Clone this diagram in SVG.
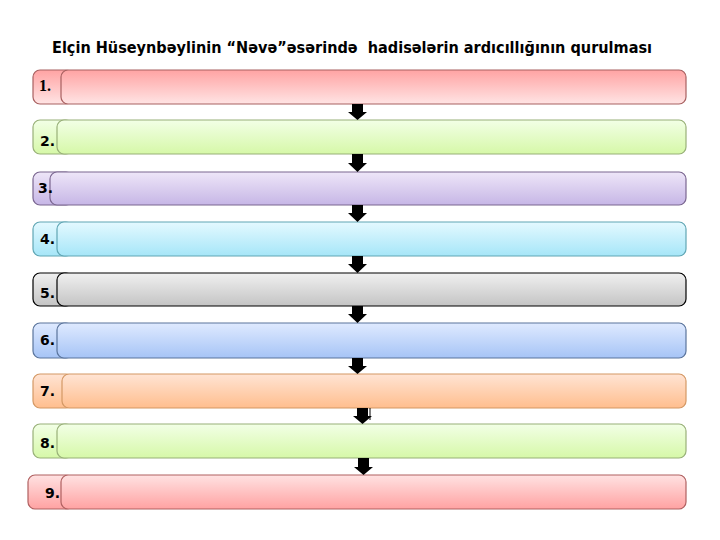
<svg xmlns="http://www.w3.org/2000/svg" width="720" height="540" viewBox="0 0 720 540">
<defs>
<linearGradient id="gRed" x1="0" y1="0" x2="0" y2="1"><stop offset="0" stop-color="#ffa3a3"/><stop offset="1" stop-color="#ffe4e4"/></linearGradient>
<linearGradient id="gRed2" x1="0" y1="0" x2="0" y2="1"><stop offset="0" stop-color="#ffe2e2"/><stop offset="1" stop-color="#ffa2a2"/></linearGradient>
<linearGradient id="gGreen" x1="0" y1="0" x2="0" y2="1"><stop offset="0" stop-color="#f2ffe6"/><stop offset="1" stop-color="#d6f8a8"/></linearGradient>
<linearGradient id="gPurple" x1="0" y1="0" x2="0" y2="1"><stop offset="0" stop-color="#eee6f8"/><stop offset="1" stop-color="#c6b6e6"/></linearGradient>
<linearGradient id="gCyan" x1="0" y1="0" x2="0" y2="1"><stop offset="0" stop-color="#e4f9ff"/><stop offset="1" stop-color="#a6e6f8"/></linearGradient>
<linearGradient id="gGray" x1="0" y1="0" x2="0" y2="1"><stop offset="0" stop-color="#f0f0f0"/><stop offset="1" stop-color="#c4c4c4"/></linearGradient>
<linearGradient id="gBlue" x1="0" y1="0" x2="0" y2="1"><stop offset="0" stop-color="#dfeaff"/><stop offset="1" stop-color="#a6c4f6"/></linearGradient>
<linearGradient id="gOrange" x1="0" y1="0" x2="0" y2="1"><stop offset="0" stop-color="#ffe4d4"/><stop offset="1" stop-color="#ffbe8e"/></linearGradient>
</defs>
<style>
.title{font-family:"DejaVu Sans",sans-serif;font-weight:bold;font-size:15px;fill:#000;white-space:pre}
.num{font-family:"DejaVu Sans",sans-serif;font-weight:bold;font-size:14px;fill:#000}
.numS{font-family:"Liberation Serif",serif;font-weight:bold;font-size:16px;fill:#000}
.arrow{fill:#000}
.red{fill:url(#gRed);stroke:#a86060;stroke-width:1.2}
.red2{fill:url(#gRed2);stroke:#b06060;stroke-width:1.2}
.green{fill:url(#gGreen);stroke:#98b078;stroke-width:1.2}
.purple{fill:url(#gPurple);stroke:#7a6690;stroke-width:1.2}
.cyan{fill:url(#gCyan);stroke:#60a6b4;stroke-width:1.2}
.gray{fill:url(#gGray);stroke:#000;stroke-width:1.2}
.blue{fill:url(#gBlue);stroke:#5a749c;stroke-width:1.2}
.orange{fill:url(#gOrange);stroke:#d49864;stroke-width:1.2}
</style>
<rect width="720" height="540" fill="#fff"/>
<text class="title" x="52" y="53" textLength="600" lengthAdjust="spacingAndGlyphs" xml:space="preserve">Elçin Hüseynbəylinin “Nəvə”əsərində  hadisələrin ardıcıllığının qurulması</text>

<g id="node1">
<rect class="red" x="33" y="70" width="40" height="34" rx="7"/>
<rect class="red" x="61" y="70" width="625" height="34" rx="7"/>
<text class="numS" x="39" y="91">1.</text>
</g>
<g id="node2">
<rect class="green" x="33" y="120" width="40" height="34" rx="7"/>
<rect class="green" x="57" y="120" width="629" height="34" rx="7"/>
<text class="num" x="40" y="146">2.</text>
</g>
<g id="node3">
<rect class="purple" x="33" y="172" width="40" height="33" rx="7"/>
<rect class="purple" x="50" y="172" width="636" height="33" rx="7"/>
<text class="num" x="38" y="193">3.</text>
</g>
<g id="node4">
<rect class="cyan" x="33" y="222" width="40" height="34" rx="7"/>
<rect class="cyan" x="57" y="222" width="629" height="34" rx="7"/>
<text class="num" x="40" y="244">4.</text>
</g>
<g id="node5">
<rect class="gray" x="33" y="273" width="40" height="33" rx="7"/>
<rect class="gray" x="57" y="273" width="629" height="33" rx="7"/>
<text class="num" x="40" y="298">5.</text>
</g>
<g id="node6">
<rect class="blue" x="33" y="323" width="40" height="35" rx="7"/>
<rect class="blue" x="57" y="323" width="629" height="35" rx="7"/>
<text class="num" x="40" y="345">6.</text>
</g>
<g id="node7">
<rect class="orange" x="33" y="374" width="40" height="34" rx="7"/>
<rect class="orange" x="62" y="374" width="624" height="34" rx="7"/>
<text class="num" x="40" y="396">7.</text>
</g>
<g id="node8">
<rect class="green" x="33" y="424" width="40" height="34" rx="7"/>
<rect class="green" x="57" y="424" width="629" height="34" rx="7"/>
<text class="num" x="40" y="448">8.</text>
</g>
<g id="node9">
<rect class="red2" x="28" y="475" width="45" height="34" rx="7"/>
<rect class="red2" x="61" y="475" width="625" height="34" rx="7"/>
<text class="num" x="45" y="498">9.</text>
</g>

<g id="connectors">
<polygon class="arrow" points="352,104 363,104 363,112 367,112 357.5,120 348,112 352,112"/>
<polygon class="arrow" points="352,154 363,154 363,163 367,163 357.5,172 348,163 352,163"/>
<polygon class="arrow" points="352,205 363,205 363,213 367,213 357.5,222 348,213 352,213"/>
<polygon class="arrow" points="352,256 363,256 363,264 367,264 357.5,273 348,264 352,264"/>
<polygon class="arrow" points="352,306 363,306 363,314 367,314 357.5,323 348,314 352,314"/>
<polygon class="arrow" points="352,358 363,358 363,366 367,366 357.5,374 348,366 352,366"/>
<polygon class="arrow" points="357,408 368,408 368,416 372,416 362.5,424 353,416 357,416"/>
<line x1="370" y1="408" x2="370" y2="420" stroke="#000" stroke-width="1"/>
<polygon class="arrow" points="358,458 369,458 369,467 373,467 363.5,475 354,467 358,467"/>
</g>
</svg>
